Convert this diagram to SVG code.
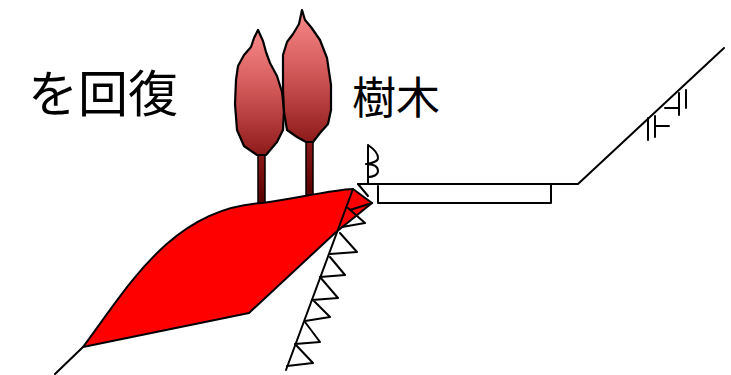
<svg xmlns="http://www.w3.org/2000/svg" width="731" height="375" viewBox="0 0 731 375">
  <defs>
    <linearGradient id="crownGrad" x1="0" y1="0" x2="0" y2="1">
      <stop offset="0" stop-color="#f98a8a"/>
      <stop offset="0.5" stop-color="#cf5555"/>
      <stop offset="1" stop-color="#8e1a1a"/>
    </linearGradient>
    <linearGradient id="trunkGrad" x1="0" y1="0" x2="0" y2="1">
      <stop offset="0" stop-color="#8e1a1a"/>
      <stop offset="1" stop-color="#5a0000"/>
    </linearGradient>
    <style>
      .ln { fill: none; stroke: #000; stroke-width: 2; stroke-linejoin: round; stroke-linecap: round; }
      .crown { fill: url(#crownGrad); stroke: #000; stroke-width: 2.2; stroke-linejoin: round; }
      .trunk { fill: url(#trunkGrad); stroke: #000; stroke-width: 1.5; }
      .lbl { font-family: "Noto Sans CJK JP", "Noto Sans", sans-serif; fill: #000; }
    </style>
  </defs>

  <rect width="731" height="375" fill="#fff"/>

  <!-- labels -->
  <g id="label-recover">
    <text class="lbl" x="28" y="112" font-size="50">を回復</text>
  </g>
  <g id="label-trees">
    <text class="lbl" x="352" y="114" font-size="44">樹木</text>
  </g>

  <!-- trees -->
  <g id="tree-left">
    <rect class="trunk" x="258" y="152" width="7" height="52"/>
    <path class="crown" d="M258,30 L263,41 L266,52 L270,63 L277,76 L282,92 L284,110 L283,130 L277,142 L266,155 L257,155 L244,146 L237,130 L235,104 L236,80 L238,66 L244,55 L251,47 L254,38 Z"/>
  </g>
  <g id="tree-right">
    <rect class="trunk" x="306" y="139" width="7" height="57"/>
    <path class="crown" d="M302,10 L305,20 L311,27 L320,40 L327,58 L331,85 L331,110 L328,124 L320,133 L313,142 L306,142 L297,137 L287,130 L284,112 L283,90 L283,55 L287,42 L293,34 L299,24 Z"/>
  </g>

  <!-- embankment fill -->
  <g id="fill">
    <path d="M83,347 C128,287 172,208 262,203 C300,198 330,190 353,189 L372,203 L335,233 L249,313 Z" fill="#ff0000" stroke="#000" stroke-width="2" stroke-linejoin="round"/>
  </g>

  <!-- ground lines, road and slope marks -->
  <g id="connectors">
    <path class="ln" d="M55,374 L83,347"/>
    <!-- cut slope with sawtooth hatching -->
    <path class="ln" d="M353,189 L286,370"/>
    <path class="ln" d="M372,203 L350,210 M348,208 L365,223 L342,227 M340,233 L357,252 L330,254 M330,257 L345,275 L320,277 M320,277 L338,298 L312,300 M313,300 L330,317 L305,321 M305,322 L320,342 L295,344 M295,344 L313,363 L287,366"/>
    <!-- road surface -->
    <path class="ln" d="M358,184 L578,184 L724,48"/>
    <path class="ln" d="M358,184 L368,196"/>
    <path class="ln" d="M378,186 L378,203 L551,203 L551,185"/>
    <!-- guard symbol -->
    <path class="ln" d="M368,145 L368,183 M368,145 C374,149 378,153 378,158 C378,162 372,163 366,164 C374,164 378,167 378,171 C378,175 373,177 368,177"/>
    <!-- upper slope marks -->
    <path class="ln" d="M648,118 L648,140 M655,116 L655,137 M655,126 L669,126 M679,93 L679,115 M686,90 L686,108 M665,108 L679,108"/>
  </g>
</svg>
